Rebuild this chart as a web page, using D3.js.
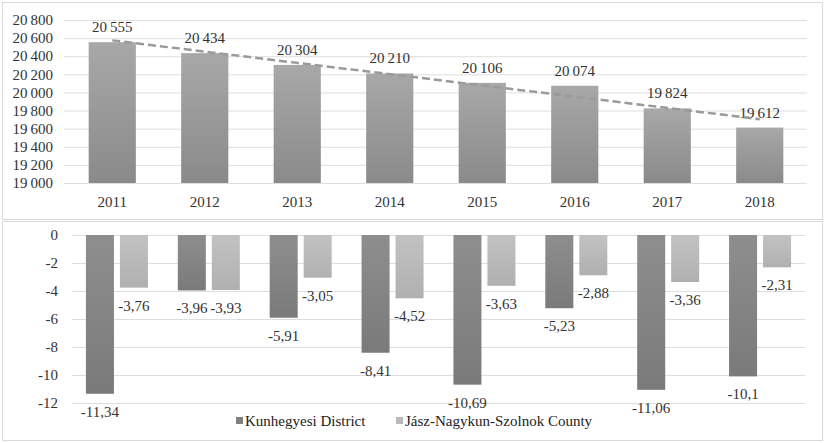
<!DOCTYPE html>
<html>
<head>
<meta charset="utf-8">
<script src="https://cdn.jsdelivr.net/npm/d3@7"></script>
<style>
  body { margin: 0; background: #fff; }
</style>
</head>
<body>
<div class="chart"></div>
<script>
// data
const years = ['2011', '2012', '2013', '2014', '2015', '2016', '2017', '2018'];
const population = [20555, 20434, 20304, 20210, 20106, 20074, 19824, 19612];
const districtChange = [-11.34, -3.96, -5.91, -8.41, -10.69, -5.23, -11.06, -10.1];
const countyChange = [-3.76, -3.93, -3.05, -4.52, -3.63, -2.88, -3.36, -2.31];
const topTicks = [19000, 19200, 19400, 19600, 19800, 20000, 20200, 20400, 20600, 20800];
const bottomTicks = [0, -2, -4, -6, -8, -10, -12];
const seriesNames = ['Kunhegyesi District', 'Jász-Nagykun-Szolnok County'];

const W = 826, H = 443;
const FONT = "'Liberation Serif', 'Times New Roman', Times, serif";
const svg = d3.select('.chart').append('svg').attr('width', W).attr('height', H)
  .attr('font-family', FONT);

// gradients
const defs = svg.append('defs');
function grad(id, c1, c2) {
  const g = defs.append('linearGradient').attr('id', id).attr('x1', 0).attr('y1', 0).attr('x2', 0).attr('y2', 1);
  g.append('stop').attr('offset', '0%').attr('stop-color', c1);
  g.append('stop').attr('offset', '100%').attr('stop-color', c2);
}
grad('gTop', '#a8a8a8', '#8a8a8a');
grad('gDark', '#8e8e8e', '#7a7a7a');
grad('gLight', '#c2c2c2', '#b0b0b0');

// frames
svg.append('rect').attr('x', 2.5).attr('y', 2.5).attr('width', 820).attr('height', 217)
  .attr('fill', 'none').attr('stroke', '#d9d9d9');
svg.append('rect').attr('x', 2.5).attr('y', 221.5).attr('width', 820).attr('height', 219)
  .attr('fill', 'none').attr('stroke', '#d9d9d9');

// ---------- top chart ----------
const xTop = d3.scaleBand().domain(years).range([66, 806]).paddingInner(0.49).paddingOuter(0.245);
const yTop = d3.scaleLinear().domain([19000, 20800]).range([183, 20]);
const spaceFmt = v => d3.format(',')(v).replace(',', '\u2009');

const topG = svg.append('g');
topG.selectAll('.grid').data(topTicks).enter().append('line')
  .attr('x1', 64).attr('x2', 807)
  .attr('y1', d => yTop(d) + 0.5).attr('y2', d => yTop(d) + 0.5)
  .attr('stroke', '#dedede');
topG.selectAll('.ytick').data(topTicks).enter().append('text')
  .attr('x', 53).attr('y', d => yTop(d)).attr('dy', '0.35em')
  .attr('text-anchor', 'end').attr('font-family', FONT).style('font-size', '15px').style('fill', '#333')
  .text(spaceFmt);

topG.selectAll('.bar').data(population).enter().append('rect')
  .attr('x', (d, i) => xTop(years[i]))
  .attr('width', xTop.bandwidth())
  .attr('y', d => yTop(d))
  .attr('height', d => yTop(19000) - yTop(d))
  .attr('fill', 'url(#gTop)');

topG.selectAll('.val').data(population).enter().append('text')
  .attr('x', (d, i) => xTop(years[i]) + xTop.bandwidth() / 2)
  .attr('y', d => yTop(d) - 10)
  .attr('text-anchor', 'middle').attr('font-family', FONT).style('font-size', '15px').style('fill', '#333')
  .text(spaceFmt);

topG.selectAll('.xlab').data(years).enter().append('text')
  .attr('x', d => xTop(d) + xTop.bandwidth() / 2)
  .attr('y', 207)
  .attr('text-anchor', 'middle').attr('font-family', FONT).style('font-size', '15px').style('fill', '#333')
  .text(d => d);

// linear trend line (least squares, like Excel)
const idx = population.map((d, i) => i);
const mx = d3.mean(idx), my = d3.mean(population);
const slope = d3.sum(idx, i => (i - mx) * (population[i] - my)) / d3.sum(idx, i => (i - mx) ** 2);
const icpt = my - slope * mx;
const trendLine = d3.line()
  .x(i => xTop(years[i]) + xTop.bandwidth() / 2)
  .y(i => yTop(icpt + slope * i));
topG.append('path')
  .attr('d', trendLine([0, years.length - 1]))
  .attr('fill', 'none').attr('stroke', '#9a9a9a')
  .attr('stroke-width', 2.5).attr('stroke-dasharray', '8,4');

// ---------- bottom chart ----------
const x0 = d3.scaleBand().domain(years).range([71, 806]).paddingInner(0.325).paddingOuter(0.1625);
const x1 = d3.scaleBand().domain([0, 1]).range([0, x0.bandwidth()]).paddingInner(0.176);
const yBot = d3.scaleLinear().domain([-12, 0]).range([403, 235]);
const commaFmt = v => String(v).replace('.', ',');

const botG = svg.append('g');
botG.selectAll('.grid').data(bottomTicks).enter().append('line')
  .attr('x1', 72).attr('x2', 805)
  .attr('y1', d => yBot(d) + 0.5).attr('y2', d => yBot(d) + 0.5)
  .attr('stroke', '#dedede');
botG.selectAll('.ytick').data(bottomTicks).enter().append('text')
  .attr('x', 58).attr('y', d => yBot(d)).attr('dy', '0.35em')
  .attr('text-anchor', 'end').attr('font-family', FONT).style('font-size', '15px').style('fill', '#333')
  .text(d => d);

const series = [
  { values: districtChange, fill: 'url(#gDark)' },
  { values: countyChange, fill: 'url(#gLight)' }
];
series.forEach((s, k) => {
  botG.selectAll('.bar' + k).data(s.values).enter().append('rect')
    .attr('x', (d, i) => x0(years[i]) + x1(k))
    .attr('width', x1.bandwidth())
    .attr('y', yBot(0))
    .attr('height', d => yBot(d) - yBot(0))
    .attr('fill', s.fill);
  botG.selectAll('.val' + k).data(s.values).enter().append('text')
    .attr('x', (d, i) => x0(years[i]) + x1(k) + x1.bandwidth() / 2)
    .attr('y', d => yBot(d) + 23)
    .attr('text-anchor', 'middle').attr('font-family', FONT).style('font-size', '15px').style('fill', '#333')
    .text(commaFmt);
});

// legend
const legendX = [236, 396];
const legendFill = ['#808080', '#bababa'];
const legend = botG.selectAll('.legend').data(seriesNames).enter().append('g')
  .attr('transform', (d, i) => `translate(${legendX[i]},421)`);
legend.append('rect').attr('x', 0).attr('y', -4).attr('width', 7).attr('height', 7)
  .attr('fill', (d, i) => legendFill[i]);
legend.append('text').attr('x', 9).attr('y', 0).attr('dy', '0.35em')
  .attr('font-family', FONT).style('font-size', '15px').style('fill', '#222')
  .text(d => d);
</script>
</body>
</html>
